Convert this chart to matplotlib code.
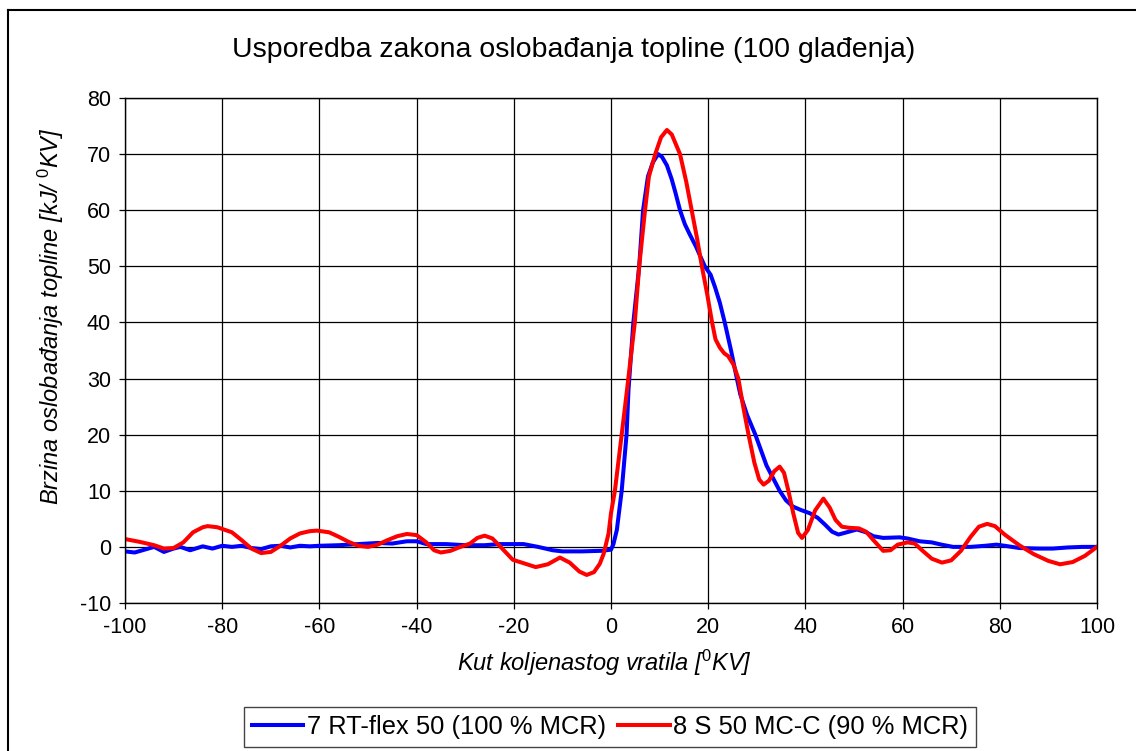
import matplotlib
matplotlib.use("Agg")
import matplotlib.pyplot as plt
from matplotlib.lines import Line2D

plt.rcParams["font.family"] = ["Liberation Sans", "DejaVu Sans"]
plt.rcParams["mathtext.fontset"] = "custom"
plt.rcParams["mathtext.rm"] = "Liberation Sans"
plt.rcParams["mathtext.it"] = "Liberation Sans:italic"
plt.rcParams["axes.unicode_minus"] = False

# 7 RT-flex 50 (100 % MCR)
blue_x = [-100, -98, -96, -94, -92, -90, -88.6, -86.6, -84, -82, -80, -78, -76, -74,
          -72, -70, -68, -66, -64, -62, -60, -56, -52, -48, -45, -42, -40, -38, -34,
          -30, -26, -23, -20, -18, -15, -12, -10, -6, -2, 0, 0.5, 1.2, 2.2, 3.2, 3.6,
          4.6, 5.8, 6.6, 7.6, 8.6, 9.7, 10.5, 11.5, 12.5, 13.3, 14.2, 15.2, 16.2,
          17.5, 19.3, 20.5, 21.4, 22.4, 23.4, 24.7, 25.9, 26.6, 28, 29.7, 32, 33.5,
          34.7, 36, 37.4, 39, 40.9, 42.5, 44, 45.5, 46.8, 48.5, 50.6, 52.5, 54, 56,
          59.4, 61, 63.5, 66, 68, 70.4, 74, 77, 79.3, 81, 84, 88, 90.9, 94, 97, 100]
blue_y = [-0.8, -1.0, -0.5, 0.0, -0.9, -0.3, 0.0, -0.6, 0.1, -0.3, 0.2, 0.0, 0.2, -0.2,
          -0.4, 0.1, 0.2, -0.1, 0.2, 0.1, 0.2, 0.3, 0.5, 0.7, 0.6, 1.0, 1.0, 0.5, 0.5,
          0.3, 0.3, 0.5, 0.5, 0.5, 0.0, -0.6, -0.8, -0.8, -0.7, -0.5, 0.5, 3, 10, 20, 28,
          40, 50, 60, 66, 68.5, 70, 69.5, 68, 65.5, 63, 60, 57.5, 55.7,
          53.5, 50, 48.5, 46.3, 43.5, 40, 35, 30, 27.2, 23.5, 20, 14.5, 12,
          10, 8.3, 7.2, 6.6, 6.0, 5.2, 4.0, 2.7, 2.2, 2.6, 3.1, 2.6, 1.9, 1.6,
          1.7, 1.5, 1.0, 0.8, 0.4, 0.0, 0.0, 0.2, 0.4, 0.2, -0.2, -0.3, -0.3, -0.1, 0.0, 0.0]

# 8 S 50 MC-C (90 % MCR)
red_x = [-100, -97, -94, -92, -90, -88, -86, -84, -83, -81, -78, -76, -74, -72, -70,
         -68, -66, -64, -62, -60.5, -58, -56, -54, -52, -50, -48, -46, -44, -42, -40,
         -38, -36.4, -35, -33, -31.3, -29, -27.5, -26, -24.4, -22.5, -20.2, -18,
         -15.5, -13, -10.5, -8.5, -6.5, -5, -3.5, -2.3, -1.5, -0.5, 0, 0.8, 2.2, 3.3,
         4.9, 5.8, 7.0, 7.8, 9.1, 10.3, 11.5, 12.5, 14.2, 15.5, 16.6, 17.7, 18.7,
         19.8, 20.8, 21.5, 22.4, 23.3, 24.1, 25.2, 26.2, 27.2, 28.3, 29.5, 30.5,
         31.4, 32.5, 33.6, 34.7, 35.6, 36.5, 37.5, 38.5, 39.3, 40.5, 42, 43.7, 45,
         46.2, 47.5, 49, 51, 52.5, 54, 56, 57.5, 59, 61, 62.5, 64, 66, 68.1, 70, 72,
         74, 75.7, 77.4, 79, 81, 84, 87, 90, 92.4, 95, 97.5, 100]
red_y = [1.4, 0.9, 0.3, -0.3, -0.2, 0.8, 2.6, 3.5, 3.7, 3.5, 2.6, 1.2, -0.3, -1.1, -0.9,
         0.2, 1.5, 2.4, 2.8, 2.9, 2.6, 1.8, 0.9, 0.2, 0.0, 0.4, 1.2, 1.9, 2.3, 2.1,
         0.8, -0.6, -1.0, -0.7, -0.1, 0.6, 1.6, 2.0, 1.5, -0.2, -2.3, -2.9,
         -3.6, -3.1, -1.9, -2.8, -4.4, -5.0, -4.5, -3.0, -1.2, 2.4, 6, 10, 20, 28,
         40, 50, 60, 66, 70, 73, 74.3, 73.5, 70, 65, 60, 55, 50,
         45, 40, 37, 35.5, 34.5, 34, 32.5, 30, 25, 20, 15, 12,
         11.1, 11.8, 13.5, 14.3, 13.2, 10, 6, 2.5, 1.6, 3.0, 6.5, 8.6, 7.0,
         4.8, 3.6, 3.4, 3.3, 2.7, 1.2, -0.7, -0.6, 0.4, 0.8, 0.6, -0.6, -2.1, -2.8, -2.4, -0.7,
         1.8, 3.6, 4.1, 3.7, 2.2, 0.3, -1.3, -2.5, -3.1, -2.7, -1.6, 0.0]

x_ticks = [-100, -80, -60, -40, -20, 0, 20, 40, 60, 80, 100]
y_ticks = [-10, 0, 10, 20, 30, 40, 50, 60, 70, 80]

fig = plt.figure(figsize=(11.36, 7.51), dpi=100)
ax = fig.add_axes([125 / 1136, 1 - 603 / 751, (1097 - 125) / 1136, (603 - 98) / 751])

ax.plot(blue_x, blue_y, color="#0000ff", lw=2.9, label="7 RT-flex 50 (100 % MCR)")
ax.plot(red_x, red_y, color="#ff0000", lw=2.9, label="8 S 50 MC-C (90 % MCR)")

ax.set_xlim(-100, 100)
ax.set_ylim(-10, 80)
ax.set_xticks(x_ticks)
ax.set_yticks(y_ticks)
ax.grid(True, color="black", lw=0.9)
ax.set_axisbelow(True)
ax.tick_params(labelsize=15.5, length=4, width=0.9, direction="out", pad=6)
for s in ax.spines.values():
    s.set_color("black")
    s.set_linewidth(1.0)

ax.set_xlabel(r"Kut koljenastog vratila [$^{\mathit{0}}$KV]", fontsize=17, style="italic")
ax.set_ylabel(r"Brzina oslobađanja topline [kJ/ $^{\mathit{0}}$KV]", fontsize=17, style="italic")
ax.xaxis.set_label_coords((604 - 125) / 972, -(663 - 603) / 505)
ax.yaxis.set_label_coords(-(125 - 51) / 972, (603 - 316) / 505)
ax.xaxis.label.set_va("center")
ax.yaxis.label.set_va("center")

fig.text(574 / 1136, 1 - 50 / 751, "Usporedba zakona oslobađanja topline (100 glađenja)",
         ha="center", va="center", fontsize=20.5)

leg = fig.legend(loc="center", bbox_to_anchor=(610 / 1136, 1 - 727 / 751), ncol=2,
                 fontsize=18.4, fancybox=False, edgecolor="#444444", framealpha=1,
                 handlelength=2.0, handletextpad=0.15, columnspacing=0.5,
                 borderpad=0.3)
leg.get_frame().set_linewidth(1.0)

# outer chart-area border (top and left edges visible)
fig.add_artist(Line2D([8 / 1136, 1], [1 - 10 / 751, 1 - 10 / 751], color="black", lw=1.5,
                      transform=fig.transFigure))
fig.add_artist(Line2D([8 / 1136, 8 / 1136], [0, 1 - 10 / 751], color="black", lw=1.5,
                      transform=fig.transFigure))

fig.savefig("out.png", dpi=100)
